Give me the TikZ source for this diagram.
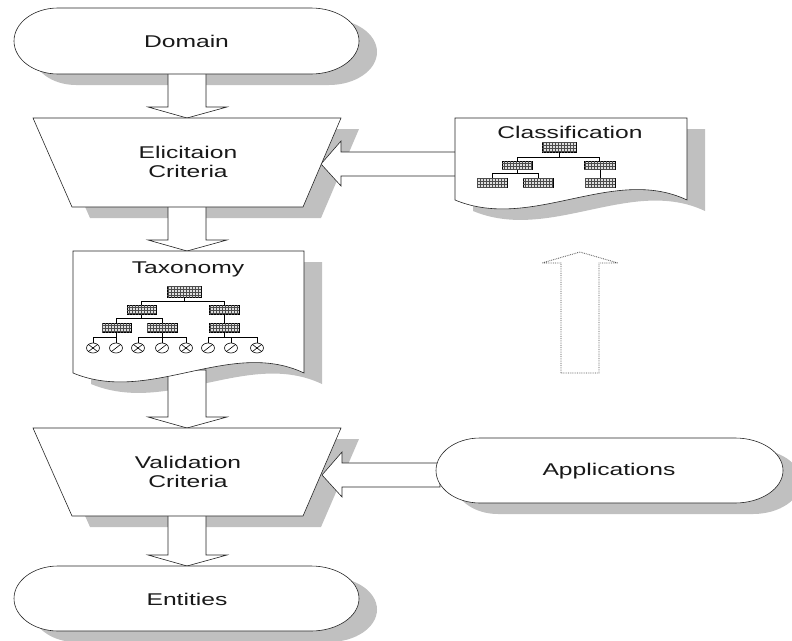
\documentclass[tikz,border=0pt]{standalone}
\usepackage{fontspec}
\setmainfont{Liberation Sans}[FakeStretch=1.45]
\usetikzlibrary{calc, patterns}

\definecolor{shadowgray}{HTML}{C0C0C0}

% outline shapes, all in pixel units: left, right, top, bottom
\newcommand{\termshape}[5][]{%
  \path[#1] (#2+44,#4) -- (#3-48,#4)
    arc[start angle=-90, end angle=90, x radius=48, y radius={(#5-#4)/2}]
    -- (#2+44,#5)
    arc[start angle=90, end angle=270, x radius=44, y radius={(#5-#4)/2}] -- cycle;}
\newcommand{\trapshape}[5][]{%
  \path[#1] (#2,#4) -- (#3,#4) -- (#3-38,#5) -- (#2+39,#5) -- cycle;}
\newcommand{\docshape}[5][]{%
  \path[#1] (#2,#4) -- (#3,#4) -- (#3,#5)
    .. controls (#3-74,#5-35) and (#2+77,#5+32) .. (#2,#5) -- cycle;}
% block arrows between named coordinates
\newcommand{\downblock}[3][]{%
  \path[#1] ($(#2)+(-19,0)$) -- ($(#3)+(-19,-11)$) -- ($(#3)+(-39,-11)$) -- (#3)
    -- ($(#3)+(40,-11)$) -- ($(#3)+(19,-11)$) -- ($(#2)+(19,0)$) -- cycle;}
\newcommand{\upblock}[3][]{%
  \path[#1] ($(#2)+(-19,0)$) -- ($(#3)+(-19,11)$) -- ($(#3)+(-38,11)$) -- (#3)
    -- ($(#3)+(38,11)$) -- ($(#3)+(19,11)$) -- ($(#2)+(19,0)$) -- cycle;}
\newcommand{\leftblock}[3][]{%
  \path[#1] ($(#2)+(0,-12)$) -- ($(#3)+(20,-12)$) -- ($(#3)+(20,-23)$) -- (#3)
    -- ($(#3)+(20,22)$) -- ($(#3)+(20,12)$) -- ($(#2)+(0,12)$) -- cycle;}
% tree pieces
\newcommand{\gbox}[4]{\path[tbox] (#1,#2) rectangle (#3,#4);}
\newcommand{\leafx}[1]{%
  \draw[tleaf] (#1,348) ellipse [x radius=6.5, y radius=5];
  \draw[tleaf] (#1-4.5,344.5) -- (#1+4.5,351.5) (#1-4.5,351.5) -- (#1+4.5,344.5);}
\newcommand{\leafs}[1]{%
  \draw[tleaf] (#1,348) ellipse [x radius=6.5, y radius=5];
  \draw[tleaf] (#1-4.5,351.5) -- (#1+4.5,344.5);}

\begin{document}
\begin{tikzpicture}[x=1pt, y=-1pt,
    shadowfill/.style={fill=shadowgray},
    outline/.style={draw=black!85, fill=white, line width=0.6pt},
    dottedline/.style={draw=black!70, densely dotted, line width=0.8pt},
    tbox/.style={draw=black, line width=0.8pt, fill=gray!25,
      postaction={pattern=grid, pattern color=black!70}},
    tline/.style={draw=black, line width=0.6pt},
    tleaf/.style={draw=black, line width=0.6pt},
    label/.style={font=\fontsize{17}{19}\selectfont, text=black!90, align=center}]

  \useasboundingbox (0,0) rectangle (792,640);
  \clip (0,0) rectangle (792,640);

  % arrow ends
  \coordinate (domain-s) at (187,72);
  \coordinate (elicit-n) at (187,118);
  \coordinate (elicit-s) at (187,205);
  \coordinate (taxo-n) at (187,251);
  \coordinate (taxo-s) at (187,370);
  \coordinate (valid-n) at (187,428);
  \coordinate (valid-s) at (187,514);
  \coordinate (entities-n) at (187,566);
  \coordinate (classif-w) at (458,164);
  \coordinate (elicit-e) at (321,164);
  \coordinate (apps-w) at (440,475);
  \coordinate (valid-e) at (322,475);
  \coordinate (feed-s) at (580,373);
  \coordinate (feed-n) at (580,252);

  % shadows
  \begin{scope}[shift={(18,11)}]
    \termshape[shadowfill]{14}{359}{8}{74}
    \trapshape[shadowfill]{33}{341}{118}{207}
    \docshape[shadowfill]{73}{304}{251}{373}
    \docshape[shadowfill]{455}{687}{118}{200}
    \trapshape[shadowfill]{33}{341}{428}{516}
    \termshape[shadowfill]{436}{783}{438}{503}
    \termshape[shadowfill]{14}{359}{566}{631}
    \downblock[shadowfill]{domain-s}{elicit-n}
    \downblock[shadowfill]{elicit-s}{taxo-n}
    \downblock[shadowfill]{taxo-s}{valid-n}
    \downblock[shadowfill]{valid-s}{entities-n}
  \end{scope}

  % arrows
  \downblock[outline]{domain-s}{elicit-n}
  \downblock[outline]{elicit-s}{taxo-n}
  \downblock[outline]{taxo-s}{valid-n}
  \downblock[outline]{valid-s}{entities-n}
  \leftblock[outline]{classif-w}{elicit-e}
  \leftblock[outline]{apps-w}{valid-e}
  \upblock[dottedline]{feed-s}{feed-n}

  % shapes
  \termshape[outline]{14}{359}{8}{74}
  \trapshape[outline]{33}{341}{118}{207}
  \docshape[outline]{73}{304}{251}{373}
  \docshape[outline]{455}{687}{118}{200}
  \trapshape[outline]{33}{341}{428}{516}
  \termshape[outline]{436}{783}{438}{503}
  \termshape[outline]{14}{359}{566}{631}

  % taxonomy tree
  \draw[tline] (184,297) -- (184,301) (141.5,301) -- (224,301)
    (141.5,301) -- (141.5,305) (224,301) -- (224,305);
  \draw[tline] (141.5,314) -- (141.5,318) (116.5,318) -- (162,318)
    (116.5,318) -- (116.5,323) (162,318) -- (162,323) (224,314) -- (224,323);
  \draw[tline] (116.5,332) -- (116.5,337) (93,337) -- (116.5,337)
    (162,332) -- (162,337) (138,337) -- (186,337)
    (224,332) -- (224,337) (208,337) -- (257,337);
  \foreach \cx in {93,116,138,162,186,208,231,257}
    \draw[tline] (\cx,337) -- (\cx,343);
  \gbox{167}{286}{201}{297}
  \gbox{127}{305}{156}{314}
  \gbox{209}{305}{239}{314}
  \gbox{102}{323}{131}{332}
  \gbox{147}{323}{177}{332}
  \gbox{209}{323}{239}{332}
  \leafx{93} \leafs{116} \leafx{138} \leafs{162}
  \leafx{186} \leafs{208} \leafs{231} \leafx{257}

  % classification tree
  \draw[tline] (559,152) -- (559,157) (517,157) -- (599.5,157)
    (517,157) -- (517,161) (599.5,157) -- (599.5,161);
  \draw[tline] (517,169) -- (517,173) (492,173) -- (538,173)
    (492,173) -- (492,178) (538,173) -- (538,178) (600,169) -- (600,178);
  \gbox{542}{142}{576}{152}
  \gbox{502}{161}{532}{169}
  \gbox{584}{161}{615}{169}
  \gbox{477}{178}{507}{187}
  \gbox{523}{178}{553}{187}
  \gbox{585}{178}{615}{187}

  % texts
  \node[label] (domain) at (186.5,41) {Domain};
  \node[label] (elicit) at (188,162) {Elicitaion\\Criteria};
  \node[label] (taxo) at (188,269) {Taxonomy};
  \node[label] (classif) at (570,132) {Classification};
  \node[label] (valid) at (188,472) {Validation\\Criteria};
  \node[label] (apps) at (609,471) {Applications};
  \node[label] (entities) at (187,599) {Entities};
\end{tikzpicture}
\end{document}
